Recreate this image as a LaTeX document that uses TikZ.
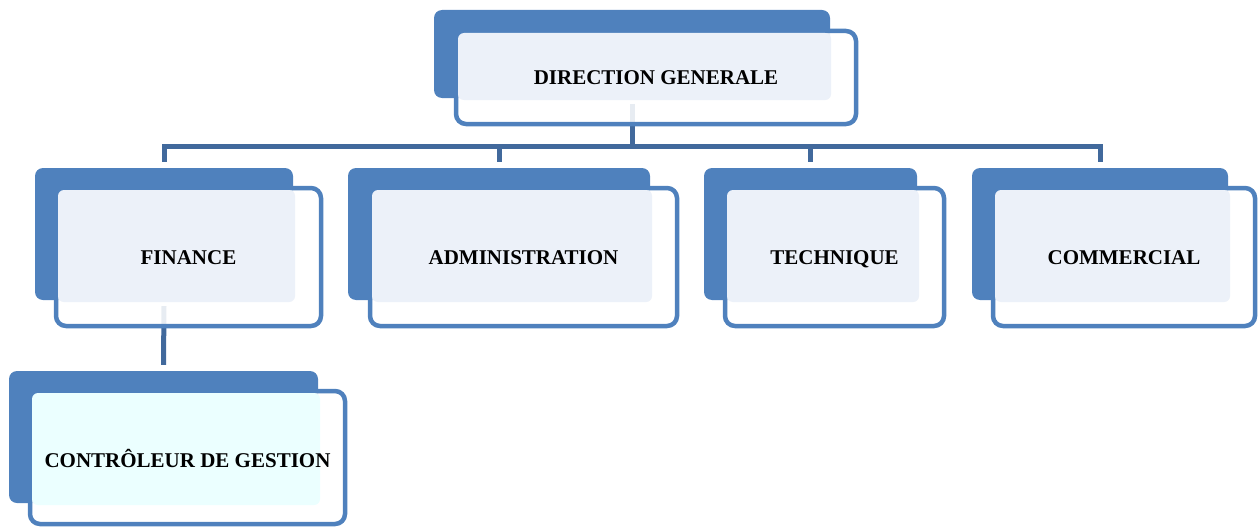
\documentclass[tikz,border=0pt]{standalone}
\usepackage{fontspec}
\setmainfont{Liberation Serif}
\usetikzlibrary{fit,backgrounds}
\definecolor{ublue}{HTML}{4F81BD}
\definecolor{ulight}{HTML}{ECF1F9}
\definecolor{ucyan}{HTML}{EBFFFF}
\definecolor{uline}{HTML}{41699C}
\tikzset{
  backbox/.style={fill=ublue, draw=none, rounded corners=8pt, inner sep=0pt},
  framebox/.style={draw=ublue, line width=4.5pt, fill=white, fill opacity=0.88,
                   rounded corners=10pt, inner sep=0pt},
  lightbox/.style={draw=none, rounded corners=6pt, inner sep=0pt},
  unitlabel/.style={font=\bfseries\fontsize{21}{21}\selectfont, inner sep=0pt,
                    text height=14pt, text depth=0pt},
  conn/.style={draw=uline, line width=5pt}
}
% one unit of the chart: back plate, outlined frame, tinted label plate, caption
% #1 name, #2/#3 back corners, #4/#5 frame corners, #6/#7 plate corners,
% #8 plate colour, #9 caption
\newcommand\orgunit[9]{%
  \node[backbox, fit={#2 #3}] (#1-back) {};
  \node[framebox, fit={#4 #5}] (#1-frame) {};
  \node[lightbox, fill=#8, fit={#6 #7}] (#1-light) {};
  \node[unitlabel] (#1) at (#1-frame.center) {#9};
}
\begin{document}
\begin{tikzpicture}[x=1pt, y=-1pt]
  \useasboundingbox (0,0) rectangle (1258,527);

  \orgunit{dg}{(434,10)}{(830,98)}{(456,31)}{(856,124)}{(458,33)}{(831,100)}{ulight}{DIRECTION GENERALE}
  \orgunit{fin}{(35,168)}{(293,300)}{(56,188)}{(321,326)}{(58,190)}{(295,302)}{ulight}{FINANCE}
  \orgunit{adm}{(348,168)}{(650,300)}{(370,188)}{(677,326)}{(372,190)}{(652,302)}{ulight}{ADMINISTRATION}
  \orgunit{tec}{(704,168)}{(917,300)}{(725,188)}{(944,326)}{(727,190)}{(919,302)}{ulight}{TECHNIQUE}
  \orgunit{com}{(972,168)}{(1228,300)}{(993,188)}{(1255,326)}{(995,190)}{(1230,302)}{ulight}{COMMERCIAL}
  \begin{scope}[unitlabel/.append style={yshift=-3pt}]
    \orgunit{ctl}{(9,371)}{(318,503)}{(30,391)}{(345,524)}{(32,393)}{(320,505)}{ucyan}{CONTRÔLEUR DE GESTION}
  \end{scope}

  \begin{scope}[on background layer]
    \coordinate (bus) at (0,146);
    \draw[conn] ([yshift=-6pt]dg-back.south) -- (dg-back.center |- bus);
    \draw[conn] ([yshift=6pt]fin-back.north) |- (com-back.center |- bus)
                -- ([yshift=6pt]com-back.north);
    \draw[conn] (adm-back.center |- bus) -- ([yshift=6pt]adm-back.north);
    \draw[conn] (tec-back.center |- bus) -- ([yshift=6pt]tec-back.north);
    \draw[conn] ([yshift=-6pt]fin-back.south) -- ([yshift=6pt]ctl-back.north);
  \end{scope}
\end{tikzpicture}
\end{document}
